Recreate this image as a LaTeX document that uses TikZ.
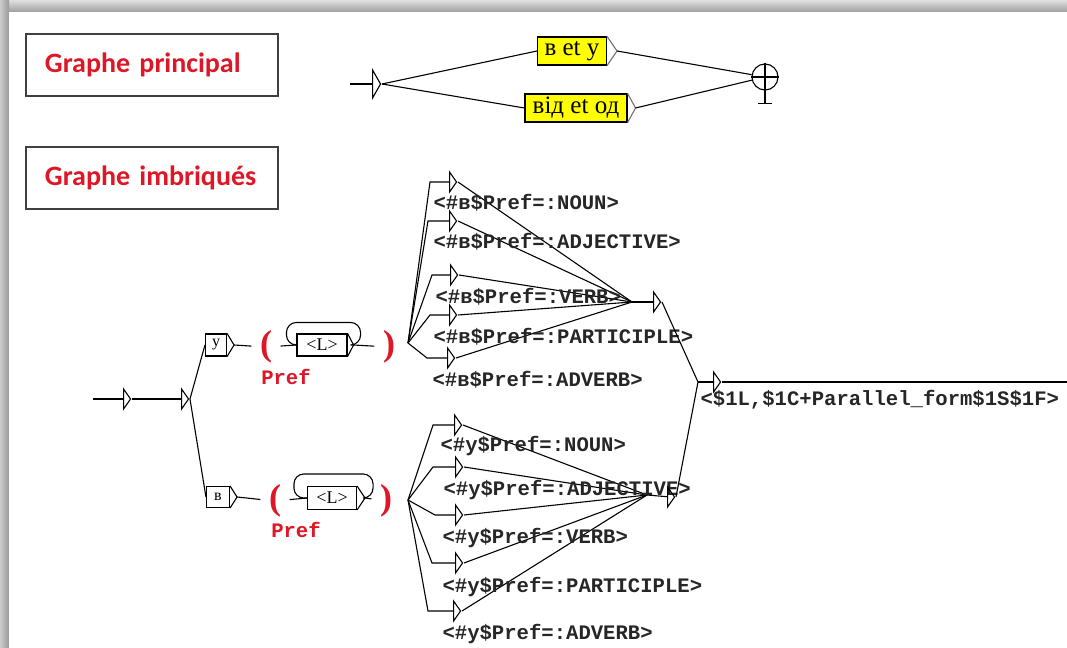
\documentclass[tikz,border=0pt]{standalone}
\usepackage{fontspec}
\setmainfont{Liberation Serif}
\newfontfamily\codefont{Liberation Mono}
\newfontfamily\titlefont{Carlito}
\usetikzlibrary{shapes.geometric}
\definecolor{titlered}{RGB}{222,22,38}
\definecolor{boxyellow}{RGB}{255,255,0}

\begin{document}
\begin{tikzpicture}[x=0.5pt,y=-0.5pt,line width=0.55pt,
 heading/.style={draw=black!75,line width=0.7pt,minimum width=126pt,minimum height=31pt,text width=107pt,inner xsep=9.5pt,align=left,font=\titlefont\bfseries\fontsize{14}{16}\selectfont,text=titlered},
 utri/.style={isosceles triangle,isosceles triangle stretches=true,draw,inner sep=0pt,minimum width=10pt,minimum height=3.5pt,anchor=lower side},
 ubox/.style={draw,inner sep=0pt,font=\fontsize{8}{9}\selectfont},
 ybox/.style={draw,fill=boxyellow,inner sep=0pt,minimum height=14pt,font=\fontsize{12.5}{13}\selectfont},
 paren/.style={text=titlered,inner xsep=4pt,inner ysep=0pt,font=\bfseries\fontsize{18}{18}\selectfont},
 var/.style={text=titlered,inner sep=0pt,font=\codefont\bfseries\fontsize{10.3}{12}\selectfont},
 lab/.style={anchor=west,inner sep=0pt,text=black!85,font=\codefont\bfseries\fontsize{10.3}{12}\selectfont}]
\useasboundingbox (0,0) rectangle (1067,648);
% window frame
\shade[top color=black!12,bottom color=black!38] (0,0) rectangle (1067,12);
\shade[left color=black!20,right color=black!40] (0,0) rectangle (9,648);
\fill[white] (9,12) rectangle (1067,648);
\node[heading] (gp) at (152,65) {Graphe principal};
\node[heading] (gi) at (152,178) {Graphe imbriqués};
% main graph
\coordinate (m0in) at (350,84);
\node[utri,minimum width=14pt,minimum height=4pt] (m0) at (372,84) {};
\node[ybox,minimum width=34.5pt] (b1) at (572,51) {в et у};
\node[ybox,minimum width=51pt] (b2) at (576,108) {від et од};
\draw[black!55] (b1.north east)--([xshift=5pt]b1.east) coordinate (b1t)--(b1.south east);
\draw[black!55] (b2.north east)--([xshift=4pt]b2.east) coordinate (b2t)--(b2.south east);
\node[circle,draw,minimum size=13pt,inner sep=0pt] (fin) at (765,77) {};
\draw (fin.north)--(fin.south)--++(0,13) coordinate (fint);\draw (fin.west)--(fin.east);
\draw ([xshift=-3.5pt]fint)--([xshift=3.5pt]fint);
\draw (m0in)--(m0);\draw (m0.apex)--(b1.west);\draw (m0.apex)--(b2.west);
\draw (b1t)--(fin);\draw (b2t)--(fin);
% nested graph: start and the two prefixes
\coordinate (n0in) at (93,399);
\node[utri] (n0) at (123,399) {};\node[utri] (n1) at (181,399) {};
\draw (n0in)--(n0);\draw (n0.apex)--(n1);
\node[ubox,minimum width=10.5pt,minimum height=11pt] (yb) at (216,345) {у};
\node[ubox,minimum width=11.5pt,minimum height=10.5pt] (vb) at (218,497) {в};
\draw (yb.north east)--([xshift=3.5pt]yb.east) coordinate (ybt)--(yb.south east);
\draw (vb.north east)--([xshift=3.5pt]vb.east) coordinate (vbt)--(vb.south east);
\draw (n1.apex)--(yb.west);\draw (n1.apex)--(vb.west);
% upper row: ( <L> ) Pref
\node[paren] (pu1) at (266,347) {(};\node[paren] (pu2) at (389,347) {)};
\node[var] (vu) at (286,377) {Pref};
\node[ubox,minimum width=25pt,minimum height=11pt,font=\fontsize{9}{9}\selectfont] (Lu) at (322,345) {<L>};
\draw (Lu.north east)--([xshift=3pt]Lu.east) coordinate (Lut)--(Lu.south east);
\draw (ybt)--(pu1);\draw (pu1)--(Lu.west);\draw (Lut)--(pu2);
\draw[rounded corners=5pt] (Lut) -| ([xshift=6.5pt,yshift=5.5pt]Lu.north east) -| ([xshift=-5pt]Lu.west)--(Lu.west);
% lower row: ( <L> ) Pref
\node[paren] (pl1) at (275,501) {(};\node[paren] (pl2) at (386,501) {)};
\node[var] (vl) at (296,530) {Pref};
\node[ubox,minimum width=24.5pt,minimum height=11.5pt,font=\fontsize{9}{9}\selectfont] (Ll) at (332,498) {<L>};
\draw (Ll.north east)--([xshift=4pt]Ll.east) coordinate (Llt)--(Ll.south east);
\draw (vbt)--(pl1);\draw (pl1)--(Ll.west);\draw (Llt)--(pl2);
\draw[rounded corners=5pt] (Llt) -| ([xshift=8pt,yshift=6pt]Ll.north east) -| ([xshift=-6.5pt]Ll.west)--(Ll.west);
% upper fan
\coordinate (fu) at (408,343);\coordinate (mu) at (632,302);
\coordinate (cu1) at (430,182);\node[utri] (tu1) at (449,182) {};
\coordinate (cu2) at (428,221);\node[utri] (tu2) at (449,221) {};
\coordinate (cu3) at (432,275);\node[utri] (tu3) at (450,275) {};
\coordinate (cu4) at (430,315);\node[utri] (tu4) at (449,315) {};
\coordinate (cu5) at (427,358);\node[utri] (tu5) at (447,358) {};
\draw (fu)--(cu1)--(tu1);\draw (fu)--(cu2)--(tu2);\draw (fu)--(cu3)--(tu3);\draw (fu)--(cu4)--(tu4);\draw (fu)--(cu5)--(tu5);
\draw (tu1.apex)--(mu);\draw (tu2.apex)--(mu);\draw (tu3.apex)--(mu);\draw (tu4.apex)--(mu);\draw (tu5.apex)--(mu);
\node[lab] (lu1) at (433,203) {<\#в\$Pref=:NOUN>};
\node[lab] (lu2) at (433,242) {<\#в\$Pref=:ADJECTIVE>};
\node[lab] (lu3) at (435,297) {<\#в\$Pref=:VERB>};
\node[lab] (lu4) at (433,337) {<\#в\$Pref=:PARTICIPLE>};
\node[lab] (lu5) at (432,380) {<\#в\$Pref=:ADVERB>};
\node[utri] (tu) at (653,302) {};\draw (mu)--(tu);
% lower fan
\coordinate (fl) at (408,500);\coordinate (ml) at (647,495);
\coordinate (cl1) at (433,425);\node[utri] (tl1) at (454,425) {};
\coordinate (cl2) at (433,467);\node[utri] (tl2) at (455,467) {};
\coordinate (cl3) at (435,515);\node[utri] (tl3) at (455,515) {};
\coordinate (cl4) at (432,563);\node[utri] (tl4) at (455,563) {};
\coordinate (cl5) at (428,611);\node[utri] (tl5) at (453,611) {};
\draw (fl)--(cl1)--(tl1);\draw (fl)--(cl2)--(tl2);\draw (fl)--(cl3)--(tl3);\draw (fl)--(cl4)--(tl4);\draw (fl)--(cl5)--(tl5);
\draw (tl1.apex)--(ml);\draw (tl2.apex)--(ml);\draw (tl3.apex)--(ml);\draw (tl4.apex)--(ml);\draw (tl5.apex)--(ml);
\node[lab] (ll1) at (440,446) {<\#у\$Pref=:NOUN>};
\node[lab] (ll2) at (443,490) {<\#у\$Pref=:ADJECTIVE>};
\node[lab] (ll3) at (442,538) {<\#у\$Pref=:VERB>};
\node[lab] (ll4) at (442,587) {<\#у\$Pref=:PARTICIPLE>};
\node[lab] (ll5) at (442,634) {<\#у\$Pref=:ADVERB>};
\node[utri] (tl) at (667,497) {};\draw (ml)--(tl);
% output
\coordinate (mo) at (698,382);\coordinate (oend) at (1067,382);
\node[utri] (to) at (713,382) {};
\draw (tu.apex)--(mo);\draw (tl.apex)--(mo);\draw (mo)--(to);\draw (to.apex)--(oend);
\node[lab] (lo) at (700,400) {<\$1L,\$1C+Parallel\_form\$1S\$1F>};
\end{tikzpicture}
\end{document}
